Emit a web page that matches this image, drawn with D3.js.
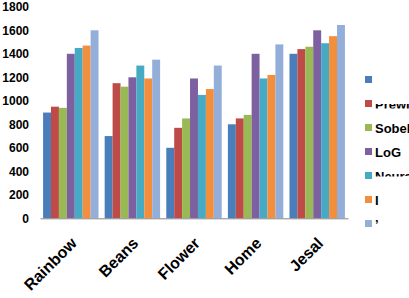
<!DOCTYPE html>
<html>
<head>
<meta charset="utf-8">
<script src="https://cdn.jsdelivr.net/npm/d3@7"></script>
<style>
  html, body { margin: 0; padding: 0; background: #fff; }
  svg { display: block; }
</style>
</head>
<body>
<svg id="chart" width="409" height="298"></svg>
<script>
const categories = ['Rainbow', 'Beans', 'Flower', 'Home', 'Jesal'];
const seriesNames = ['', 'Prewitt', 'Sobel', 'LoG', 'Neural', 'I', '\u2019'];
const seriesColors = ['#4A7EBB', '#BE4B48', '#98B954', '#7D60A0', '#46AAC5', '#F38E3D', '#94AEDA'];
const seriesValues = [
  [900, 700, 600, 800, 1400],
  [950, 1150, 770, 850, 1440],
  [940, 1120, 850, 880, 1460],
  [1400, 1200, 1190, 1400, 1600],
  [1450, 1300, 1050, 1190, 1490],
  [1470, 1190, 1100, 1220, 1550],
  [1600, 1350, 1300, 1480, 1645],
];
const yTicks = [0, 200, 400, 600, 800, 1000, 1200, 1400, 1600, 1800];

const FONT = "'Liberation Sans', Arial, sans-serif";
const plot = { left: 40, right: 348, top: 6.8, bottom: 218.3 };

const svg = d3.select('#chart');

const x0 = d3.scaleBand().domain(categories).range([plot.left, plot.right]).paddingInner(0.1).paddingOuter(0.05);
const x1 = d3.scaleBand().domain(d3.range(seriesNames.length)).range([0, x0.bandwidth()]);
const y = d3.scaleLinear().domain([0, 1800]).range([plot.bottom, plot.top]);

// bars
seriesValues.forEach((vals, si) => {
  svg.append('g')
    .selectAll('rect')
    .data(vals)
    .join('rect')
    .attr('x', (d, ci) => x0(categories[ci]) + x1(si))
    .attr('y', d => y(d))
    .attr('width', x1.bandwidth())
    .attr('height', d => y(0) - y(d))
    .attr('fill', seriesColors[si]);
});

// x axis line
svg.append('g')
  .attr('transform', `translate(0,${plot.bottom})`)
  .call(d3.axisBottom(x0).tickSize(0).tickFormat(''))
  .call(sel => sel.select('.domain').attr('stroke', '#868686').attr('stroke-width', 1));

// x labels (rotated)
svg.append('g')
  .selectAll('text')
  .data(categories)
  .join('text')
  .attr('transform', d => `translate(${x0(d) + x0.bandwidth() / 2 + 7},${plot.bottom + 26}) rotate(-45)`)
  .attr('text-anchor', 'end')
  .attr('font-family', FONT)
  .attr('font-weight', 'bold')
  .attr('font-size', '16px')
  .attr('fill', '#000')
  .text(d => d);

// y axis labels
svg.append('g')
  .attr('transform', `translate(${plot.left},0)`)
  .call(d3.axisLeft(y).tickValues(yTicks).tickSize(0).tickPadding(11).tickFormat(d3.format('d')))
  .call(sel => sel.select('.domain').remove())
  .call(sel => sel.selectAll('.tick text')
    .attr('font-family', FONT)
    .attr('font-weight', 'bold')
    .attr('font-size', '12px')
    .attr('fill', '#000'));

// legend
const defs = svg.append('defs');
// some legend labels are partly hidden in the source picture
const labelClip = {
  1: { y: 0, h: 4.5 },
  4: { y: -5, h: 5.5 },
};
Object.entries(labelClip).forEach(([i, c]) => {
  defs.append('clipPath').attr('id', `lc${i}`)
    .append('rect').attr('x', 0).attr('y', c.y).attr('width', 60).attr('height', c.h);
});

const legend = svg.append('g').attr('transform', 'translate(365,80)');
const item = legend.selectAll('g')
  .data(seriesNames)
  .join('g')
  .attr('transform', (d, i) => `translate(0,${i * 24})`);
item.append('rect')
  .attr('x', 0).attr('y', -4)
  .attr('width', 7).attr('height', 7)
  .attr('fill', (d, i) => seriesColors[i]);
item.append('g')
  .attr('clip-path', (d, i) => labelClip[i] ? `url(#lc${i})` : null)
  .append('text')
  .attr('x', 10).attr('y', 5)
  .attr('font-family', FONT)
  .attr('font-weight', 'bold')
  .attr('font-size', '13px')
  .attr('fill', '#000')
  .text(d => d);
</script>
</body>
</html>
